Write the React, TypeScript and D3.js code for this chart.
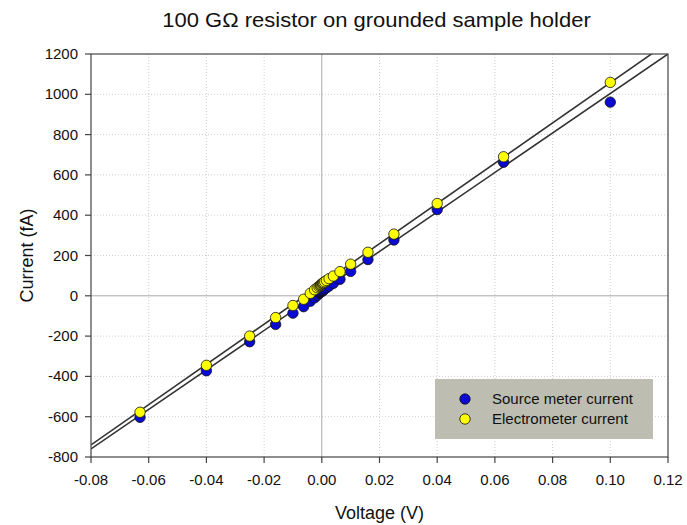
import { scaleLinear } from "d3";

const chartTitle = "100 GΩ resistor on grounded sample holder";
const xLabel = "Voltage (V)";
const yLabel = "Current (fA)";
const seriesNames = ["Source meter current", "Electrometer current"];

// applied voltage (V)
const voltages = [
  -0.063, -0.04, -0.025, -0.016, -0.01, -0.0063, -0.004, -0.0025, -0.0016, -0.001,
  -0.00063, -0.0004, -0.00025, 0, 0.00025, 0.0004, 0.00063, 0.001, 0.0016, 0.0025,
  0.004, 0.0063, 0.01, 0.016, 0.025, 0.04, 0.063, 0.1,
];

// currents (fA)
const sourceCurrent = [
  -603, -372, -228, -142, -86, -54, -27, -10, 2, 12,
  16, 18, 20, 22, 25, 27, 30, 34, 40, 48,
  62, 82, 121, 180, 277, 428, 663, 961,
];
const electroCurrent = [
  -578, -345, -200, -108, -48, -17, 12, 30, 40, 46,
  50, 53, 55, 58, 61, 63, 66, 70, 76, 85,
  98, 120, 157, 216, 306, 458, 690, 1059,
];

// linear fits
const sourceFit = { intercept: 24, slope: 9800 };
const electroFit = { intercept: 59, slope: 9985 };

const xTicks = [-0.08, -0.06, -0.04, -0.02, 0, 0.02, 0.04, 0.06, 0.08, 0.1, 0.12];
const yTicks = [-800, -600, -400, -200, 0, 200, 400, 600, 800, 1000, 1200];

export default function App() {
  const width = 687;
  const height = 525;
  const left = 91;
  const right = 668;
  const top = 54;
  const bottom = 457;
  const font = "'Liberation Sans', Arial, sans-serif";

  const x = scaleLinear().domain([-0.08, 0.12]).range([left, right]);
  const y = scaleLinear().domain([-800, 1200]).range([bottom, top]);

  const fitLine = (fit: { intercept: number; slope: number }) => {
    const [x0, x1] = x.domain();
    return {
      x1: x(x0),
      y1: y(fit.intercept + fit.slope * x0),
      x2: x(x1),
      y2: y(fit.intercept + fit.slope * x1),
    };
  };
  const fits = [sourceFit, electroFit].map(fitLine);

  const blue = "#0a0ad2";
  const yellow = "#ffff00";

  return (
    <svg
      width={width}
      height={height}
      style={{ position: "absolute", left: 0, top: 0, background: "#fff" }}
      fontFamily={font}
    >
      <defs>
        <clipPath id="plot">
          <rect x={left} y={top} width={right - left} height={bottom - top} />
        </clipPath>
      </defs>

      <text
        transform="translate(376.5, 27) scale(1.1, 1)"
        textAnchor="middle"
        fontSize={20}
        fill="#111"
      >
        {chartTitle}
      </text>

      {/* grid */}
      {xTicks.slice(1, -1).map((t) =>
        t === 0 ? null : (
          <line key={`gx${t}`} x1={x(t)} x2={x(t)} y1={top} y2={bottom} stroke="#cfcfcf" strokeDasharray="1 2" />
        )
      )}
      {yTicks.slice(1, -1).map((t) =>
        t === 0 ? null : (
          <line key={`gy${t}`} x1={left} x2={right} y1={y(t)} y2={y(t)} stroke="#cfcfcf" strokeDasharray="1 2" />
        )
      )}
      <line x1={x(0)} x2={x(0)} y1={top} y2={bottom} stroke="#a8a8a8" />
      <line x1={left} x2={right} y1={y(0)} y2={y(0)} stroke="#a8a8a8" />

      {/* fit lines */}
      <g clipPath="url(#plot)">
        {fits.map((f, i) => (
          <line key={i} {...f} stroke="#333" strokeWidth={1.6} />
        ))}
      </g>

      {/* points */}
      {voltages.map((v, i) => (
        <circle key={`s${i}`} cx={x(v)} cy={y(sourceCurrent[i])} r={5.2} fill={blue} stroke="#111" strokeWidth={0.8} />
      ))}
      {voltages.map((v, i) => (
        <circle key={`e${i}`} cx={x(v)} cy={y(electroCurrent[i])} r={5.2} fill={yellow} stroke="#111" strokeWidth={0.8} />
      ))}

      {/* frame */}
      <rect x={left} y={top} width={right - left} height={bottom - top} fill="none" stroke="#444" strokeWidth={1.2} />

      {/* axes */}
      {xTicks.map((t) => (
        <g key={`xt${t}`}>
          <line x1={x(t)} x2={x(t)} y1={bottom} y2={bottom + 6} stroke="#444" strokeWidth={1.2} />
          <text x={x(t)} y={bottom + 28} textAnchor="middle" fontSize={15} fill="#111">
            {t.toFixed(2)}
          </text>
        </g>
      ))}
      {yTicks.map((t) => (
        <g key={`yt${t}`}>
          <line x1={left - 6} x2={left} y1={y(t)} y2={y(t)} stroke="#444" strokeWidth={1.2} />
          <text x={left - 13} y={y(t) + 5} textAnchor="end" fontSize={15} fill="#111">
            {t}
          </text>
        </g>
      ))}

      <text x={(left + right) / 2} y={519} textAnchor="middle" fontSize={18} fill="#111">
        {xLabel}
      </text>
      <text
        transform={`translate(33, ${(top + bottom) / 2}) rotate(-90)`}
        textAnchor="middle"
        fontSize={18}
        fill="#111"
      >
        {yLabel}
      </text>

      {/* legend */}
      <g>
        <rect x={435} y={379} width={218} height={60} fill="#bdbdb2" />
        {seriesNames.map((name, i) => (
          <g key={name}>
            <circle cx={465} cy={399 + i * 20} r={5.2} fill={i === 0 ? blue : yellow} stroke="#111" strokeWidth={0.8} />
            <text x={492} y={404 + i * 20} fontSize={15} fill="#111">
              {name}
            </text>
          </g>
        ))}
      </g>
    </svg>
  );
}
